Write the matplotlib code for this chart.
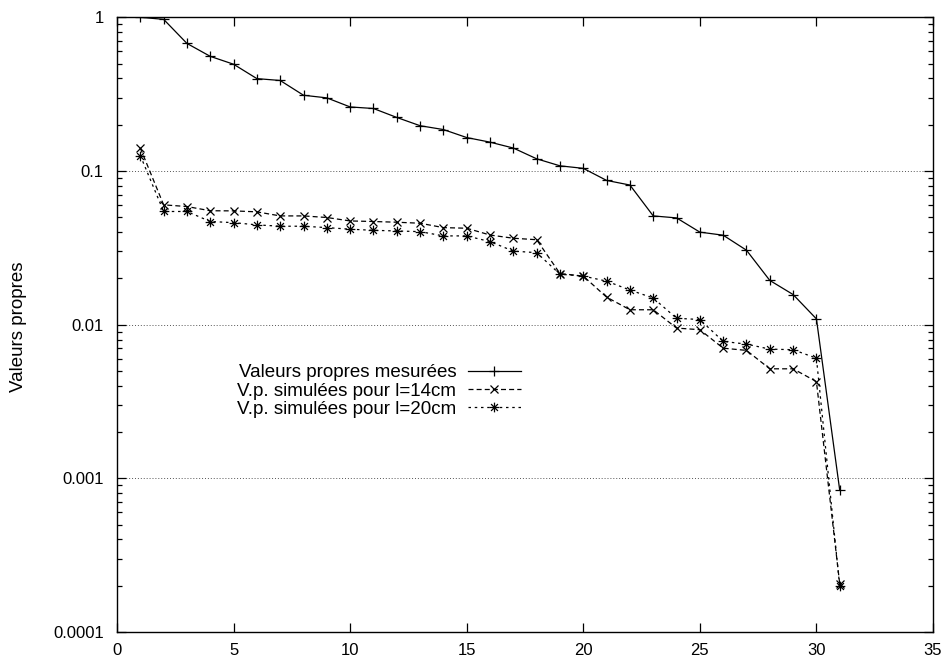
import numpy as np
import matplotlib
matplotlib.use("Agg")
import matplotlib.pyplot as plt
from matplotlib.path import Path
from matplotlib.ticker import FixedLocator, FixedFormatter, LogLocator, NullFormatter

plt.rcParams['font.family'] = ['Liberation Sans', 'DejaVu Sans']

x = list(range(1, 32))
measured = [1.0, 0.97, 0.676, 0.557, 0.495, 0.399, 0.388, 0.311, 0.299, 0.261,
            0.255, 0.223, 0.197, 0.186, 0.165, 0.154, 0.141, 0.120, 0.108, 0.104,
            0.0868, 0.081, 0.051, 0.0495, 0.040, 0.0382, 0.0305, 0.0194, 0.0157, 0.0109,
            0.000835]
sim14 = [0.141, 0.0602, 0.0587, 0.0551, 0.055, 0.0542, 0.051, 0.051, 0.0498, 0.0473,
         0.0469, 0.0464, 0.0457, 0.0428, 0.0424, 0.0383, 0.0365, 0.0357, 0.0215, 0.0207,
         0.0151, 0.0125, 0.0125, 0.0095, 0.00927, 0.00703, 0.0068, 0.00516, 0.00516, 0.00426,
         0.000205]
sim20 = [0.126, 0.0545, 0.0545, 0.0469, 0.0461, 0.0446, 0.0437, 0.0437, 0.0428, 0.0418,
         0.0411, 0.0407, 0.0403, 0.0378, 0.0378, 0.0347, 0.0301, 0.0294, 0.0213, 0.0207,
         0.0192, 0.0168, 0.0149, 0.0110, 0.0108, 0.00778, 0.00747, 0.00693, 0.00687, 0.00605,
         0.000198]

labels = ["Valeurs propres mesurées", "V.p. simulées pour l=14cm", "V.p. simulées pour l=20cm"]
ytick_vals = [1e-4, 1e-3, 1e-2, 1e-1, 1]
ytick_labels = ["0.0001", "0.001", "0.01", "0.1", "1"]
xtick_vals = [0, 5, 10, 15, 20, 25, 30, 35]

# gnuplot-like asterisk (+ overlaid on x)
r = 0.5
d = r * np.sqrt(0.5)
star = Path([(-r, 0), (r, 0), (0, -r), (0, r), (-d, -d), (d, d), (-d, d), (d, -d)],
            [Path.MOVETO, Path.LINETO] * 4)

fig = plt.figure(figsize=(9.45, 6.59), dpi=100)
ax = fig.add_axes([117 / 945, 1 - 632 / 659, (933 - 117) / 945, (632 - 17.3) / 659])

ax.plot(x, measured, color='black', lw=0.9, ls='-', marker='+', ms=6.5, mew=0.9,
        label=labels[0])
ax.plot(x, sim14, color='black', lw=0.9, ls=(0, (4, 2.5)), marker='x', ms=5.5, mew=0.9,
        label=labels[1])
ax.plot(x, sim20, color='black', lw=0.9, ls=(0, (2, 3)), marker=star, ms=7, mew=0.9,
        label=labels[2])

ax.set_yscale('log')
ax.set_xlim(0, 35)
ax.set_ylim(1e-4, 1)

ax.yaxis.set_major_locator(FixedLocator(ytick_vals))
ax.yaxis.set_major_formatter(FixedFormatter(ytick_labels))
ax.yaxis.set_minor_locator(LogLocator(base=10, subs=np.arange(2, 10)))
ax.yaxis.set_minor_formatter(NullFormatter())
ax.set_xticks(xtick_vals)
ax.set_xticklabels([str(v) for v in xtick_vals])

ax.tick_params(which='major', direction='in', length=6.5, width=0.9, top=True, right=True,
               labelsize=12)
ax.tick_params(axis='y', which='major', pad=9.5)
ax.tick_params(axis='x', which='major', pad=8)
ax.tick_params(which='minor', direction='in', length=3.5, width=0.9, top=True, right=True)
for s in ax.spines.values():
    s.set_linewidth(1.0)

ax.yaxis.grid(True, which='major', linestyle=(0, (1, 2)), color='#555555', lw=0.7)

ax.set_ylabel("Valeurs propres", fontsize=13.5)
ax.yaxis.label.set_va('center')
ax.yaxis.set_label_coords(-(117 - 18.5) / 816, 1 - (327 - 17.3) / 614.7)

leg = ax.legend(loc='upper left',
                bbox_to_anchor=((237 - 117) / 816, 1 - (364 - 17.3) / 614.7),
                frameon=False, fontsize=13.5, markerfirst=False, handlelength=2.83,
                labelspacing=0.07, handletextpad=0.62, borderpad=0, borderaxespad=0)

fig.savefig("out.png", dpi=100)
